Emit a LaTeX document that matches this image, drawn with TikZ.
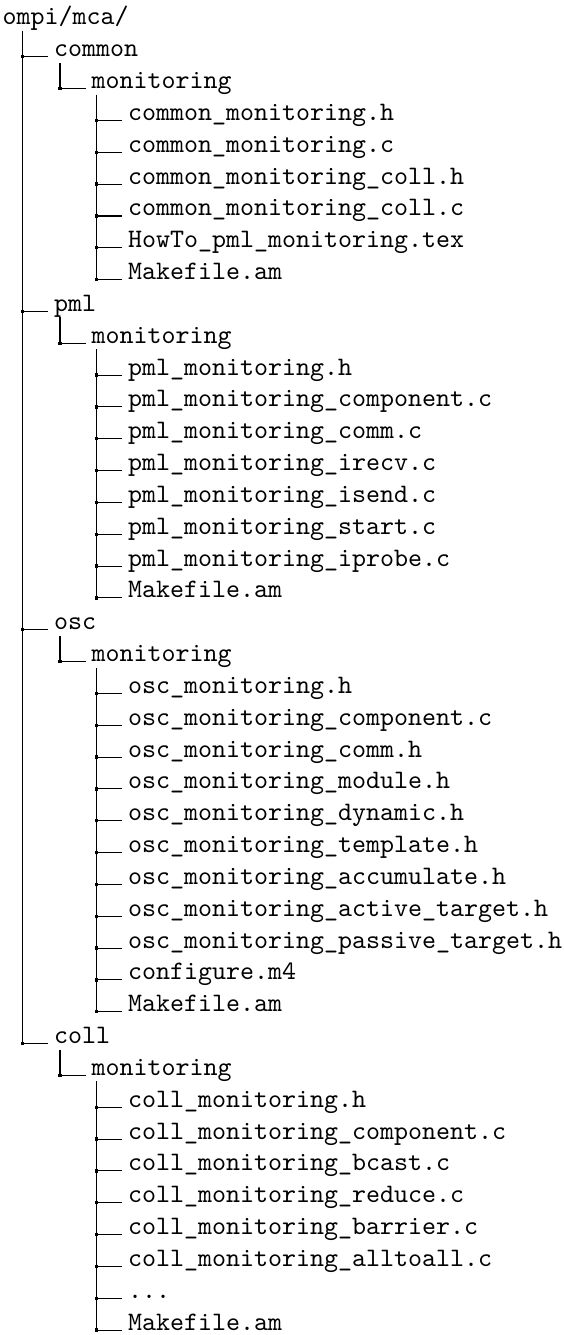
\documentclass[tikz,border=0pt]{standalone}
\usetikzlibrary{calc}
\newcommand\tdots{...}
\begin{document}
\begin{tikzpicture}[x=0.375pt,y=-0.375pt,
  entry/.style={anchor=base west, inner sep=0pt, font=\ttfamily\fontsize{10}{12}\selectfont},
  tree/.style={line width=0.4pt, draw=black}]
\useasboundingbox (0,0) rectangle (563,1335);
\node[entry] (n0) at (2,25) {ompi/mca/};
\foreach \i/\L/\t in {
  1/1/common, 2/2/monitoring,
  3/3/common\_monitoring.h, 4/3/common\_monitoring.c, 5/3/common\_monitoring\_coll.h,
  6/3/common\_monitoring\_coll.c, 7/3/HowTo\_pml\_monitoring.tex, 8/3/Makefile.am,
  9/1/pml, 10/2/monitoring,
  11/3/pml\_monitoring.h, 12/3/pml\_monitoring\_component.c, 13/3/pml\_monitoring\_comm.c,
  14/3/pml\_monitoring\_irecv.c, 15/3/pml\_monitoring\_isend.c, 16/3/pml\_monitoring\_start.c,
  17/3/pml\_monitoring\_iprobe.c, 18/3/Makefile.am,
  19/1/osc, 20/2/monitoring,
  21/3/osc\_monitoring.h, 22/3/osc\_monitoring\_component.c, 23/3/osc\_monitoring\_comm.h,
  24/3/osc\_monitoring\_module.h, 25/3/osc\_monitoring\_dynamic.h, 26/3/osc\_monitoring\_template.h,
  27/3/osc\_monitoring\_accumulate.h, 28/3/osc\_monitoring\_active\_target.h,
  29/3/osc\_monitoring\_passive\_target.h, 30/3/configure.m4, 31/3/Makefile.am,
  32/1/coll, 33/2/monitoring,
  34/3/coll\_monitoring.h, 35/3/coll\_monitoring\_component.c, 36/3/coll\_monitoring\_bcast.c,
  37/3/coll\_monitoring\_reduce.c, 38/3/coll\_monitoring\_barrier.c, 39/3/coll\_monitoring\_alltoall.c,
  40/3/\tdots, 41/3/Makefile.am}{
  \pgfmathsetmacro\vx{\L==1 ? 22.7 : (\L==2 ? 60 : 96.7)}
  \pgfmathsetmacro\yy{25+31.83*\i}
  \coordinate (j\i) at (\vx,\yy);
  \node[entry] (n\i) at (\vx+31,\yy) {\t};
  \draw[tree] (j\i) -- ($(n\i.base west)+(-5.5,0)$);
  \fill[black] (j\i) ++(-1.65,-1.65) rectangle ++(3.3,3.3);
}
% vertical lines parent -> last child
\draw[tree] ($(n0.base -| j1)+(0,6)$) -- (j32);
\draw[tree] ($(n1.base -| j2)+(0,6)$) -- (j2);
\draw[tree] ($(n2.base -| j3)+(0,6)$) -- (j8);
\draw[tree] ($(n9.base -| j10)+(0,6)$) -- (j10);
\draw[tree] ($(n10.base -| j11)+(0,6)$) -- (j18);
\draw[tree] ($(n19.base -| j20)+(0,6)$) -- (j20);
\draw[tree] ($(n20.base -| j21)+(0,6)$) -- (j31);
\draw[tree] ($(n32.base -| j33)+(0,6)$) -- (j33);
\draw[tree] ($(n33.base -| j34)+(0,6)$) -- (j41);
\end{tikzpicture}
\end{document}
